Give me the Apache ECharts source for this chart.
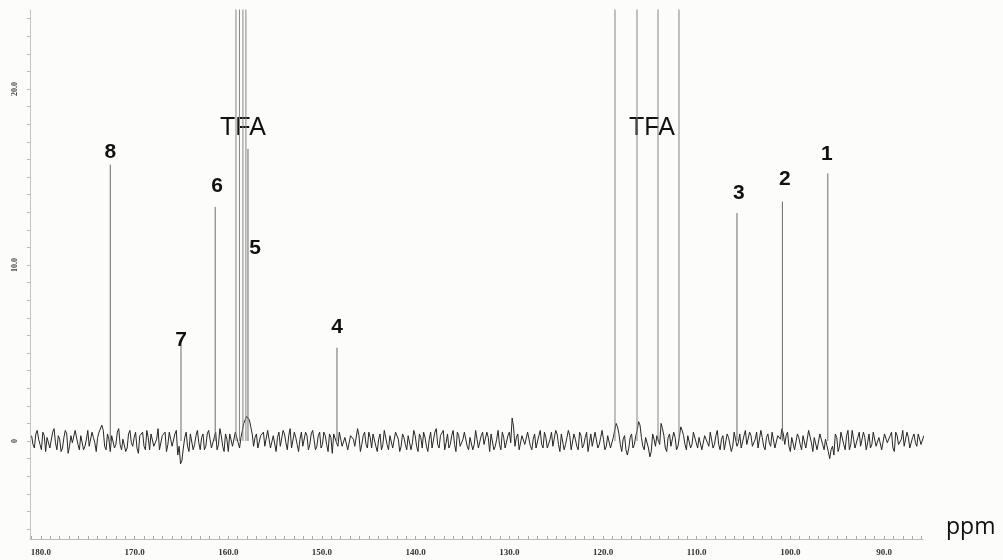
<!DOCTYPE html>
<html>
<head>
<meta charset="utf-8">
<script src="https://cdn.jsdelivr.net/npm/echarts@6/dist/echarts.min.js"></script>
<style>
html,body{margin:0;padding:0;background:#fcfcfa;}
#chart{width:1003px;height:560px;}
</style>
</head>
<body>
<div id="chart"></div>
<script>
// ---- data ----
const xTickLabels = [180, 170, 160, 150, 140, 130, 120, 110, 100, 90];
const yTickLabels = [0, 10, 20];

// baseline noise, sampled from 181.0 ppm downward in 0.3 ppm steps
const noiseStartPpm = 181.0;
const noiseStepPpm = 0.3;
const noiseValues = [
 0.3,-0.4,0.6,-0.2,0.5,-0.6,0.2,-0.3,0.7,-0.5,0.1,-0.4,0.6,-0.7,0.3,-0.2,0.5,-0.5,0.4,-0.3,
 0.6,-0.4,0.2,-0.6,0.5,0.9,-0.3,0.4,-0.6,0.3,-0.2,0.7,-0.5,0.2,-0.4,0.6,-0.3,0.5,-0.7,0.2,
 -0.3,0.6,-0.5,0.3,-0.2,0.7,-0.4,0.2,-0.6,0.5,-0.3,0.4,-0.8,-1.3,-0.4,0.5,-0.6,0.3,-0.2,0.6,
 -0.5,0.4,-0.3,0.6,-0.4,0.2,-0.5,0.7,-0.3,0.4,-0.6,0.3,-0.2,0.5,-0.4,0.6,1.2,1.5,0.8,-0.3,
 0.4,-0.5,0.2,-0.3,0.6,-0.4,0.3,-0.6,0.5,-0.2,0.4,-0.5,0.7,-0.3,0.2,-0.6,0.5,-0.4,0.3,-0.2,
 0.6,-0.5,0.3,-0.4,0.5,-0.2,0.4,-0.7,0.3,-0.3,0.6,-0.4,0.2,-0.5,0.4,-0.3,0.7,-0.6,0.3,-0.2,
 0.5,-0.4,0.3,-0.6,0.4,-0.2,0.6,-0.5,0.2,-0.3,0.5,-0.6,0.4,-0.2,0.3,-0.5,0.6,-0.3,0.4,-0.4,
 0.2,-0.6,0.5,-0.3,0.7,-0.4,0.3,-0.5,0.4,-0.2,0.6,-0.6,0.3,-0.4,0.5,-0.3,0.2,-0.5,0.6,-0.4,
 0.3,-0.2,0.5,-0.6,0.4,-0.3,0.6,-0.5,0.2,-0.4,0.5,1.3,-0.3,0.4,-0.6,0.3,-0.2,0.5,-0.5,0.4,
 -0.3,0.6,-0.4,0.2,-0.5,0.5,-0.3,0.4,-0.6,0.3,-0.2,0.6,-0.5,0.4,-0.3,0.5,-0.4,0.2,-0.6,0.4,
 -0.3,0.5,-0.2,0.6,-0.5,0.3,-0.4,0.2,1.0,0.4,-0.6,0.3,-0.8,0.2,-0.4,0.3,1.1,0.2,-0.5,0.3,
 -0.9,0.4,-0.3,0.2,1.0,0.3,-0.6,0.4,-0.4,0.2,-0.3,0.8,0.3,-0.5,0.4,-0.2,0.5,-0.4,0.3,-0.6,
 0.4,-0.3,0.5,-0.2,0.6,-0.5,0.3,-0.4,0.2,-0.6,0.5,-0.3,0.4,-0.5,0.6,-0.2,0.3,-0.4,0.5,-0.3,
 0.2,-0.5,0.4,-0.3,0.6,-0.4,0.3,0.7,-0.2,0.5,-0.6,0.3,-0.4,0.2,-0.5,0.4,-0.3,0.5,-0.6,0.2,
 -0.4,0.3,-0.5,0.2,-1.0,-0.3,0.4,-0.6,0.5,-0.2,0.3,-0.5,0.6,-0.4,0.2,-0.3,0.5,-0.5,0.4,-0.2,
 0.6,-0.4,0.3,-0.5,0.4,-0.2,0.5,-0.6,0.3,-0.3,0.6,-0.4,0.2,-0.5,0.4,-0.3,0.5,-0.2
];
// baseline noise read at the half steps in between (181.0 - 0.15 ppm, then every 0.3 ppm)
const noiseValuesMid = [
 -0.2,0.4,0.1,-0.5,0.3,0.2,-0.4,0.5,-0.1,0.3,-0.6,0.2,0.4,-0.3,-0.1,0.6,-0.2,0.3,-0.5,0.1,
 -0.3,0.5,-0.1,0.2,0.4,0.6,-0.5,0.1,0.3,-0.4,0.5,-0.2,0.1,-0.6,0.4,-0.1,0.2,-0.4,0.3,0.5,
 -0.5,0.2,0.4,-0.3,0.1,-0.5,0.3,0.5,-0.2,0.1,-0.4,0.6,-0.3,-1.1,0.2,-0.3,0.4,-0.5,0.3,-0.1,
 0.2,-0.5,0.4,0.1,-0.3,0.5,-0.2,0.3,-0.6,0.1,0.4,-0.3,0.5,-0.1,0.2,1.0,1.4,1.2,0.4,0.2,
 -0.4,0.3,0.5,-0.2,0.1,-0.5,0.4,0.2,-0.3,0.6,-0.1,0.3,-0.4,0.5,-0.2,0.1,-0.3,0.5,-0.5,0.4,
 0.1,-0.3,0.5,-0.2,0.3,-0.6,0.2,0.4,-0.1,0.5,-0.3,0.2,-0.5,0.3,0.1,-0.4,0.3,-0.2,0.5,-0.4,
 0.2,0.4,-0.3,0.1,-0.5,0.6,-0.2,0.3,-0.4,0.5,0.1,-0.3,0.2,-0.5,0.4,-0.1,0.3,-0.6,0.2,0.5,
 -0.3,0.1,-0.4,0.5,-0.2,0.3,0.6,-0.1,-0.4,0.3,-0.2,0.5,-0.3,0.1,0.4,-0.5,0.3,-0.2,0.1,-0.4,
 0.5,-0.3,0.2,0.4,-0.5,0.1,-0.2,0.5,-0.4,0.3,-0.1,0.8,0.2,-0.5,0.3,-0.2,0.5,-0.3,0.1,-0.4,
 0.3,-0.2,0.5,-0.4,0.1,-0.3,0.6,-0.2,0.4,-0.5,0.2,0.3,-0.4,0.1,-0.5,0.3,-0.2,0.5,-0.1,-0.3,
 0.5,-0.4,0.2,0.1,-0.3,0.4,-0.5,0.3,0.8,-0.2,0.1,-0.5,-0.4,0.4,-0.2,0.6,0.9,-0.3,0.2,-0.4,
 -0.6,0.1,0.3,-0.2,0.7,-0.4,0.2,-0.3,0.5,-0.5,0.2,0.6,-0.2,0.3,-0.4,0.5,-0.1,0.2,-0.5,0.3,
 -0.1,0.5,-0.4,0.3,-0.2,0.1,-0.5,0.4,0.2,-0.3,0.6,-0.1,-0.4,0.3,-0.2,0.5,-0.3,0.1,-0.4,0.6,
 -0.3,0.2,-0.1,0.5,-0.4,0.3,0.1,0.4,0.3,-0.3,0.2,-0.5,0.4,-0.2,0.3,-0.4,0.6,-0.1,0.2,-0.5,
 0.4,-0.2,0.1,-0.6,-0.5,-0.8,0.2,-0.3,0.4,-0.5,0.6,-0.2,0.1,-0.4,0.5,-0.3,0.2,-0.1,-0.4,0.5,
 -0.3,0.2,-0.5,0.4,-0.1,0.3,-0.4,0.5,-0.2,0.1,-0.3,0.5,-0.4,0.2,-0.1,0.4,-0.2,0.3
];

// numbered carbon peaks
const peakPpm    = [172.6, 165.05, 161.4, 157.9, 148.4, 105.7, 100.85, 96.0];
const peakHeight = [15.7,  5.45,   13.3,  16.6,  5.3,   12.95, 13.6,   15.2];

// TFA quartets (run off the top of the plot)
const tfaPpm    = [159.18, 158.81, 158.44, 158.12, 118.72, 116.37, 114.13, 111.89];
const tfaHeight = [40, 40, 40, 40, 40, 40, 40, 40];

// annotation labels: text, ppm, intensity
const labelText = ['8', '7', '6', '5', '4', '3', '2', '1', 'TFA', 'TFA'];
const labelPpm  = [172.6, 165.05, 161.2, 157.15, 148.4, 105.5, 100.6, 96.1, 158.44, 114.77];
const labelY    = [16.4, 5.74, 14.5, 10.97, 6.48, 14.1, 14.9, 16.3, 17.8, 17.8];

// ---- build ----
const noiseData = [];
noiseValues.forEach((v, i) => {
  const p = noiseStartPpm - noiseStepPpm * i;
  noiseData.push([+p.toFixed(3), v]);
  if (i < noiseValuesMid.length) noiseData.push([+(p - noiseStepPpm / 2).toFixed(3), noiseValuesMid[i]]);
});
function sticks(ppm, h) {
  const out = [];
  ppm.forEach((p, i) => { out.push([p, 0], [p, h[i]], [p, null]); });
  return out;
}
const xMinor = []; for (let v = 86; v <= 181; v++) xMinor.push(v);
const yMinor = []; for (let v = -5; v <= 24; v++) yMinor.push(v);

const labelData = labelText.map((t, i) => [labelPpm[i], labelY[i], i]);

const chart = echarts.init(document.getElementById('chart'));
chart.setOption({
  backgroundColor: '#fcfcfa',
  animation: false,
  grid: { left: 30, right: 80, top: 10, bottom: 21, containLabel: false, outerBoundsMode: 'none' },
  xAxis: {
    type: 'value', inverse: true, min: 85.84, max: 181.17,
    name: 'ppm', nameLocation: 'start', nameGap: 23,
    nameTextStyle: { fontFamily: 'Open Sans, Liberation Sans, sans-serif', fontSize: 23, color: '#111', verticalAlign: 'bottom', align: 'left', padding: [0, 0, 0, 0] },
    axisLine: { show: true, onZero: false, lineStyle: { color: '#bbb', width: 1 } },
    axisTick: { show: true, customValues: xMinor, length: 3, inside: true, lineStyle: { color: '#aaa' } },
    axisLabel: { customValues: xTickLabels, formatter: v => v.toFixed(1), margin: 9,
      fontFamily: 'Liberation Serif, DejaVu Serif, serif', fontWeight: 'bold', fontSize: 9, color: '#333' },
    splitLine: { show: false }
  },
  yAxis: {
    type: 'value', min: -5.57, max: 24.49,
    axisLine: { show: true, onZero: false, lineStyle: { color: '#c4c4c4', width: 1 } },
    axisTick: { show: true, customValues: yMinor, length: 3, lineStyle: { color: '#bbb' } },
    axisLabel: { customValues: yTickLabels, formatter: v => v === 0 ? '0' : v.toFixed(1),
      rotate: 90, margin: 11, fontFamily: 'Liberation Serif, DejaVu Serif, serif', fontWeight: 'bold', fontSize: 8, color: '#444' },
    splitLine: { show: false }
  },
  series: [
    { type: 'line', data: noiseData, symbol: 'none', clip: true,
      lineStyle: { color: '#262626', width: 1 } },
    { type: 'line', data: sticks(tfaPpm, tfaHeight), symbol: 'none', clip: true, connectNulls: false,
      lineStyle: { color: '#858585', width: 1 } },
    { type: 'line', data: sticks(peakPpm, peakHeight), symbol: 'none', clip: true, connectNulls: false,
      lineStyle: { color: '#6a6a6a', width: 1 } },
    { type: 'custom', silent: true, data: labelData,
      renderItem: (params, api) => {
        const pt = api.coord([api.value(0), api.value(1)]);
        const t = labelText[api.value(2)];
        const isTfa = t === 'TFA';
        return { type: 'text', x: pt[0], y: pt[1], style: {
          text: t, fill: '#111', align: 'center', verticalAlign: 'middle',
          font: (isTfa ? 'normal 25px ' : 'bold 21px ') + '"Liberation Sans", Arial, sans-serif' } };
      } }
  ]
});
</script>
</body>
</html>
